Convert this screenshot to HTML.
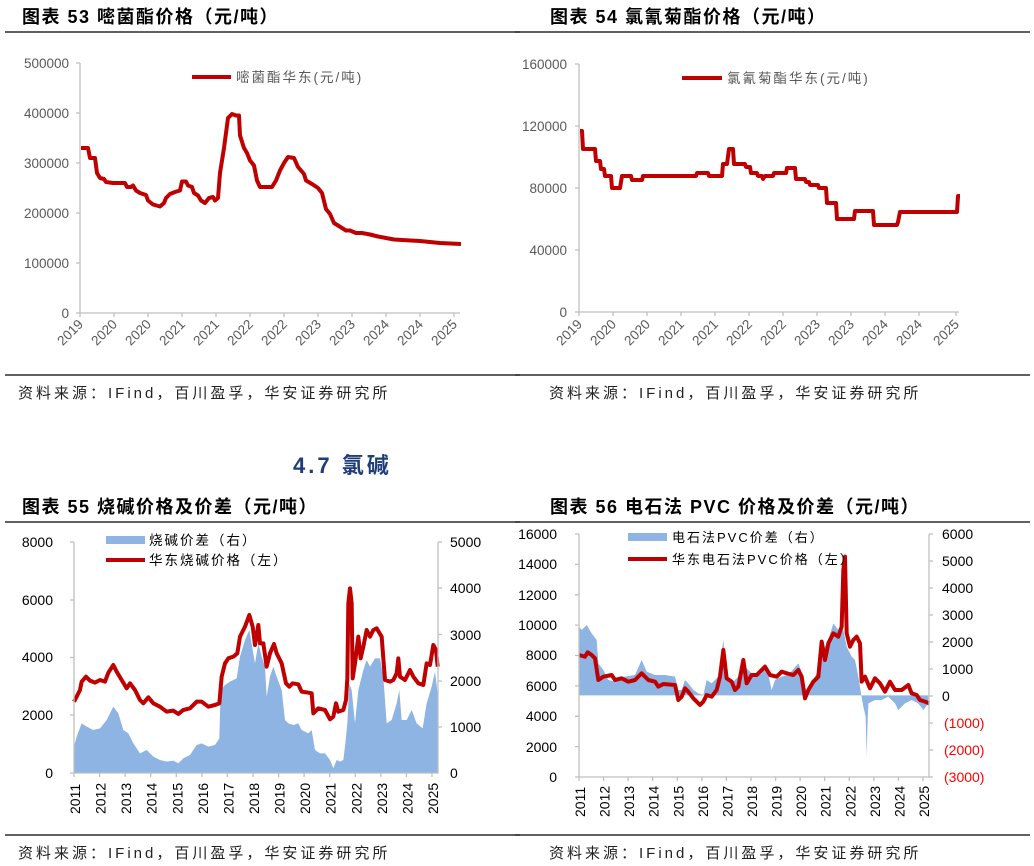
<!DOCTYPE html>
<html><head><meta charset="utf-8"><style>
body{margin:0;background:#fff;}
svg{display:block;font-family:"Liberation Sans","Noto Sans CJK SC",sans-serif;}
.t{font-size:18px;font-weight:bold;fill:#000;letter-spacing:1.5px}
.s{font-size:15px;fill:#222;letter-spacing:3px}
.a{font-size:13.5px;fill:#595959}
.lg{letter-spacing:2px}
.ax{stroke:#bfbfbf;stroke-width:1.3;fill:none}
.r{fill:none;stroke:#c00000;stroke-width:4;stroke-linejoin:round}
</style></head><body>
<svg width="1034" height="866" viewBox="0 0 1034 866" xmlns="http://www.w3.org/2000/svg">
<text x="22" y="23" class="t">图表 53 嘧菌酯价格（元/吨）</text>
<text x="550" y="23" class="t">图表 54 氯氰菊酯价格（元/吨）</text>
<line x1="5" y1="32" x2="520" y2="32" stroke="#000" stroke-width="1.2"/>
<line x1="515" y1="32" x2="1030" y2="32" stroke="#000" stroke-width="1.2"/>
<line x1="5" y1="375" x2="520" y2="375" stroke="#000" stroke-width="1.2"/>
<line x1="515" y1="375" x2="1030" y2="375" stroke="#000" stroke-width="1.2"/>
<text x="18" y="398" class="s">资料来源：IFind，百川盈孚，华安证券研究所</text>
<text x="549" y="398" class="s">资料来源：IFind，百川盈孚，华安证券研究所</text>
<text x="293" y="473" style="font-size:22px;font-weight:bold;fill:#1f3d7a;letter-spacing:3px">4.7  氯碱</text>
<text x="22" y="513" class="t">图表 55 烧碱价格及价差（元/吨）</text>
<text x="550" y="513" class="t">图表 56 电石法 PVC 价格及价差（元/吨）</text>
<line x1="5" y1="522" x2="520" y2="522" stroke="#000" stroke-width="1.2"/>
<line x1="515" y1="522" x2="1030" y2="522" stroke="#000" stroke-width="1.2"/>
<line x1="5" y1="835" x2="520" y2="835" stroke="#000" stroke-width="1.2"/>
<line x1="515" y1="835" x2="1030" y2="835" stroke="#000" stroke-width="1.2"/>
<text x="18" y="858" class="s">资料来源：IFind，百川盈孚，华安证券研究所</text>
<text x="549" y="858" class="s">资料来源：IFind，百川盈孚，华安证券研究所</text>

<!-- Chart 53 -->
<g>
<path class="ax" d="M80 63V313H460"/>
<g class="ax"><path d="M76 63H80M76 113H80M76 163H80M76 213H80M76 263H80M76 313H80"/>
<path d="M80 313v4M114 313v4M148 313v4M182 313v4M216 313v4M250 313v4M284 313v4M318 313v4M352 313v4M386 313v4M420 313v4M454 313v4"/></g>
<g class="a" text-anchor="end"><text x="69" y="68">500000</text><text x="69" y="118">400000</text><text x="69" y="168">300000</text><text x="69" y="218">200000</text><text x="69" y="268">100000</text><text x="69" y="318">0</text></g>
<g class="a" text-anchor="end">
<text transform="translate(84,325) rotate(-45)">2019</text><text transform="translate(118,325) rotate(-45)">2020</text><text transform="translate(152,325) rotate(-45)">2020</text><text transform="translate(186,325) rotate(-45)">2021</text><text transform="translate(220,325) rotate(-45)">2021</text><text transform="translate(254,325) rotate(-45)">2022</text><text transform="translate(288,325) rotate(-45)">2022</text><text transform="translate(322,325) rotate(-45)">2023</text><text transform="translate(356,325) rotate(-45)">2023</text><text transform="translate(390,325) rotate(-45)">2024</text><text transform="translate(424,325) rotate(-45)">2024</text><text transform="translate(458,325) rotate(-45)">2025</text></g>
<line x1="192" y1="77" x2="231" y2="77" stroke="#c00000" stroke-width="4"/>
<text x="236" y="82" class="a lg">嘧菌酯华东(元/吨)</text>
<polyline class="r" points="81,148 88,148 90,158 95,158 97,173 100,178 104,179 106,182 113,183 125,183 127,187 131,187 133,185.5 136,190.5 140,193 146,195 148,200.5 153,204.5 160,206.5 164,203 166,198 170,194 175,192 180,190.5 182,181.5 186,181.5 188,185.5 192,187 194,193 198,195.5 201,200.5 205,203 209,198 213,197 215,200.5 218,198 220,173 224,148 228,118 232,114 236,115.5 239,115.5 240,135.5 244,148 247,153 250,160.5 254,165.5 257,180.5 260,187 272,187 276,180.5 280,170.5 284,163 288,157 294,158 298,167 304,174 306,180.5 312,184 318,188 322,193 326,209 330,214 334,223 342,228 346,230.5 350,230.5 356,233 362,233 370,234.5 378,236.5 386,238 394,239.5 402,240 420,241 430,242 440,243 461,244"/>
</g>

<!-- Chart 54 -->
<g>
<path class="ax" d="M579 64V312H959"/>
<g class="ax"><path d="M575 64H579M575 126H579M575 188H579M575 250H579M575 312H579"/>
<path d="M579 312v4M613 312v4M647 312v4M681 312v4M715 312v4M749 312v4M783 312v4M817 312v4M851 312v4M885 312v4M919 312v4M956 312v4"/></g>
<g class="a" text-anchor="end"><text x="567" y="69">160000</text><text x="567" y="131">120000</text><text x="567" y="193">80000</text><text x="567" y="255">40000</text><text x="567" y="317">0</text></g>
<g class="a" text-anchor="end">
<text transform="translate(583,325) rotate(-45)">2019</text><text transform="translate(617,325) rotate(-45)">2020</text><text transform="translate(651,325) rotate(-45)">2020</text><text transform="translate(685,325) rotate(-45)">2021</text><text transform="translate(719,325) rotate(-45)">2021</text><text transform="translate(753,325) rotate(-45)">2022</text><text transform="translate(787,325) rotate(-45)">2022</text><text transform="translate(821,325) rotate(-45)">2023</text><text transform="translate(855,325) rotate(-45)">2023</text><text transform="translate(889,325) rotate(-45)">2024</text><text transform="translate(923,325) rotate(-45)">2024</text><text transform="translate(960,325) rotate(-45)">2025</text></g>
<line x1="682" y1="78" x2="722" y2="78" stroke="#c00000" stroke-width="4"/>
<text x="727" y="83" class="a lg">氯氰菊酯华东(元/吨)</text>
<polyline class="r" points="580,131 582,131 583,149 595,149 596,161 600,161 601,169 604,169 605,176 611,176 612,188 620,188 622,176 631,176 632,180 642,180 643,176 696,176 697,173 708,173 709,176 722,176 723,164 727,164 729,149 733,149 734,164 745,164 746,167 750,167 751,173 757,173 758,176 762,176 763,179 765,176 773,176 774,173 786,173 787,168 795,168 796,179 805,179 806,182 809,182 810,185 818,185 819,188 826,188 827,203 836,203 837,219 854,219 855,211 873,211 874,225 897,225 898,222 900,212 957,212 958,196 960,196"/>
</g>

<!-- Chart 55 -->
<g>
<g transform="translate(0,490) scale(0.33333)">
<polygon fill="#8db4e2" points="222,850 222,770 230,740 245,700 260,710 280,720 300,715 320,690 340,650 355,670 370,720 385,730 400,760 420,790 440,780 460,800 480,810 500,815 520,812 535,820 550,805 570,795 590,765 605,760 625,770 645,765 658,745 662,600 675,585 690,575 710,565 720,500 735,450 748,420 758,480 765,520 775,460 785,500 795,530 800,620 810,560 820,530 830,560 845,600 855,690 865,700 880,705 895,700 905,720 925,730 935,720 945,780 960,790 975,790 990,810 1000,835 1010,810 1020,815 1030,810 1036,760 1042,700 1048,580 1055,600 1065,700 1075,600 1090,540 1100,510 1110,530 1125,505 1140,505 1150,560 1160,700 1175,690 1190,640 1198,600 1205,690 1220,690 1235,660 1250,700 1268,715 1280,640 1295,590 1305,545 1313,610 1313,850"/>
<polyline fill="none" stroke="#c00000" stroke-width="12" stroke-linejoin="round" points="222,635 230,620 240,600 245,575 258,560 270,572 285,578 300,570 315,575 325,548 340,525 350,545 365,570 380,595 390,580 405,600 420,630 430,640 445,622 460,640 480,650 500,665 520,662 535,672 550,660 570,655 590,635 605,635 625,650 645,645 658,640 665,560 675,520 685,505 700,500 712,490 720,440 735,410 748,375 758,410 765,465 775,405 780,460 790,460 800,530 810,490 822,462 830,490 845,520 858,580 868,590 878,580 895,583 905,605 920,607 935,610 940,670 955,655 975,660 990,688 1000,680 1008,640 1015,665 1030,660 1038,630 1042,565 1045,340 1050,295 1055,340 1058,565 1065,520 1075,440 1082,505 1090,470 1100,420 1110,440 1120,420 1130,415 1145,440 1155,570 1170,575 1180,570 1190,550 1195,505 1200,560 1215,570 1230,540 1240,560 1255,580 1270,585 1280,520 1290,525 1300,465 1308,480 1313,530"/>
</g>
<path class="ax" d="M74 542V773H438V542"/>
<g class="ax"><path d="M70 542H74M70 600H74M70 657.5H74M70 715H74M70 773H74M438 542H442M438 588H442M438 634.5H442M438 681H442M438 727H442"/>
<path d="M74 773v4M99.6 773v4M125.1 773v4M150.7 773v4M176.3 773v4M201.9 773v4M227.4 773v4M253 773v4M278.6 773v4M304.1 773v4M329.7 773v4M355.3 773v4M380.9 773v4M406.4 773v4M432 773v4"/></g>
<g text-anchor="end" style="font-size:14px;fill:#000"><text x="53" y="547">8000</text><text x="53" y="605">6000</text><text x="53" y="662">4000</text><text x="53" y="720">2000</text><text x="53" y="778">0</text></g>
<g style="font-size:14px;fill:#000"><text x="450" y="547">5000</text><text x="450" y="593">4000</text><text x="450" y="640">3000</text><text x="450" y="686">2000</text><text x="450" y="732">1000</text><text x="450" y="778">0</text></g>
<g style="font-size:14px;fill:#000">
<text transform="translate(80,814) rotate(-90)">2011</text><text transform="translate(105.6,814) rotate(-90)">2012</text><text transform="translate(131.1,814) rotate(-90)">2013</text><text transform="translate(156.7,814) rotate(-90)">2014</text><text transform="translate(182.3,814) rotate(-90)">2015</text><text transform="translate(207.9,814) rotate(-90)">2016</text><text transform="translate(233.4,814) rotate(-90)">2017</text><text transform="translate(259,814) rotate(-90)">2018</text><text transform="translate(284.6,814) rotate(-90)">2019</text><text transform="translate(310.1,814) rotate(-90)">2020</text><text transform="translate(335.7,814) rotate(-90)">2021</text><text transform="translate(361.3,814) rotate(-90)">2022</text><text transform="translate(386.9,814) rotate(-90)">2023</text><text transform="translate(412.4,814) rotate(-90)">2024</text><text transform="translate(438,814) rotate(-90)">2025</text></g>
<rect x="106" y="536" width="39" height="8" fill="#8db4e2"/>
<text x="149" y="545" class="lg" style="font-size:13.5px;fill:#000">烧碱价差（右）</text>
<line x1="106" y1="560" x2="145" y2="560" stroke="#c00000" stroke-width="4"/>
<text x="149" y="565" class="lg" style="font-size:13.5px;fill:#000">华东烧碱价格（左）</text>
</g>

<!-- Chart 56 -->
<g>
<g transform="translate(515,490) scale(0.33333)">
<polygon fill="#8db4e2" points="192,616 192,410 200,420 215,405 230,430 245,450 250,520 265,540 280,570 300,575 330,560 360,555 380,510 395,545 420,555 450,555 480,560 490,600 500,600 510,570 520,580 535,600 550,610 565,615 575,570 590,580 610,560 625,450 635,560 650,580 670,560 680,520 700,540 720,560 740,550 750,530 760,555 770,600 780,570 800,560 820,555 850,520 865,560 875,610 890,580 910,540 925,480 940,450 955,400 970,420 985,420 995,470 1010,500 1020,510 1030,560 1038,610 1045,650 1052,680 1055,800 1058,690 1060,640 1080,630 1100,630 1120,620 1140,640 1150,660 1170,640 1190,630 1210,640 1225,660 1240,640 1240,616"/>
<polyline fill="none" stroke="#c00000" stroke-width="12" stroke-linejoin="round" points="192,495 210,500 218,487 230,495 240,505 250,570 265,560 290,555 300,570 320,565 340,575 360,570 380,550 400,570 420,575 430,590 445,582 480,585 490,630 500,620 510,595 520,605 535,625 555,645 565,635 575,615 590,620 605,600 615,560 625,480 635,565 650,575 660,600 670,590 685,510 695,580 710,555 725,555 735,545 750,530 765,555 785,560 800,545 815,550 835,555 850,540 860,560 870,625 880,600 895,575 910,560 920,455 930,510 940,460 955,430 970,440 980,410 985,240 990,200 995,430 1005,470 1015,450 1025,440 1035,460 1040,575 1050,560 1065,595 1080,565 1095,580 1110,605 1125,575 1140,600 1160,600 1180,585 1190,610 1205,615 1215,630 1230,635 1243,640"/>
</g>
<path class="ax" d="M579 534V777H929V534"/>
<g class="ax"><path d="M575 534H579M575 564.4H579M575 594.8H579M575 625.1H579M575 655.5H579M575 685.9H579M575 716.3H579M575 746.6H579M575 777H579M929 534H933M929 561H933M929 588H933M929 615H933M929 642H933M929 669H933M929 696H933M929 723H933M929 750H933M929 777H933"/>
<path d="M579 777v4M603.6 777v4M628.1 777v4M652.7 777v4M677.3 777v4M701.9 777v4M726.4 777v4M751 777v4M775.6 777v4M800.1 777v4M824.7 777v4M849.3 777v4M873.9 777v4M898.4 777v4M923 777v4"/></g>
<g text-anchor="end" style="font-size:14px;fill:#000"><text x="557" y="539">16000</text><text x="557" y="569">14000</text><text x="557" y="600">12000</text><text x="557" y="630">10000</text><text x="557" y="660">8000</text><text x="557" y="691">6000</text><text x="557" y="721">4000</text><text x="557" y="752">2000</text><text x="557" y="782">0</text></g>
<g style="font-size:14px;fill:#000"><text x="942" y="539">6000</text><text x="942" y="566">5000</text><text x="942" y="593">4000</text><text x="942" y="620">3000</text><text x="942" y="647">2000</text><text x="942" y="674">1000</text><text x="942" y="701">0</text></g>
<g style="font-size:14px;fill:#ff0000"><text x="944" y="728">(1000)</text><text x="944" y="755">(2000)</text><text x="944" y="782">(3000)</text></g>
<g style="font-size:14px;fill:#000">
<text transform="translate(585,817) rotate(-90)">2011</text><text transform="translate(609.6,817) rotate(-90)">2012</text><text transform="translate(634.1,817) rotate(-90)">2013</text><text transform="translate(658.7,817) rotate(-90)">2014</text><text transform="translate(683.3,817) rotate(-90)">2015</text><text transform="translate(707.9,817) rotate(-90)">2016</text><text transform="translate(732.4,817) rotate(-90)">2017</text><text transform="translate(757,817) rotate(-90)">2018</text><text transform="translate(781.6,817) rotate(-90)">2019</text><text transform="translate(806.1,817) rotate(-90)">2020</text><text transform="translate(830.7,817) rotate(-90)">2021</text><text transform="translate(855.3,817) rotate(-90)">2022</text><text transform="translate(879.9,817) rotate(-90)">2023</text><text transform="translate(904.4,817) rotate(-90)">2024</text><text transform="translate(929,817) rotate(-90)">2025</text></g>
<rect x="628" y="533" width="39" height="8" fill="#8db4e2"/>
<text x="672" y="542" class="lg" style="font-size:13px;fill:#000">电石法PVC价差（右）</text>
<line x1="628" y1="559" x2="667" y2="559" stroke="#c00000" stroke-width="4"/>
<text x="672" y="564" class="lg" style="font-size:13px;fill:#000">华东电石法PVC价格（左）</text>
</g>
</svg>
</body></html>
